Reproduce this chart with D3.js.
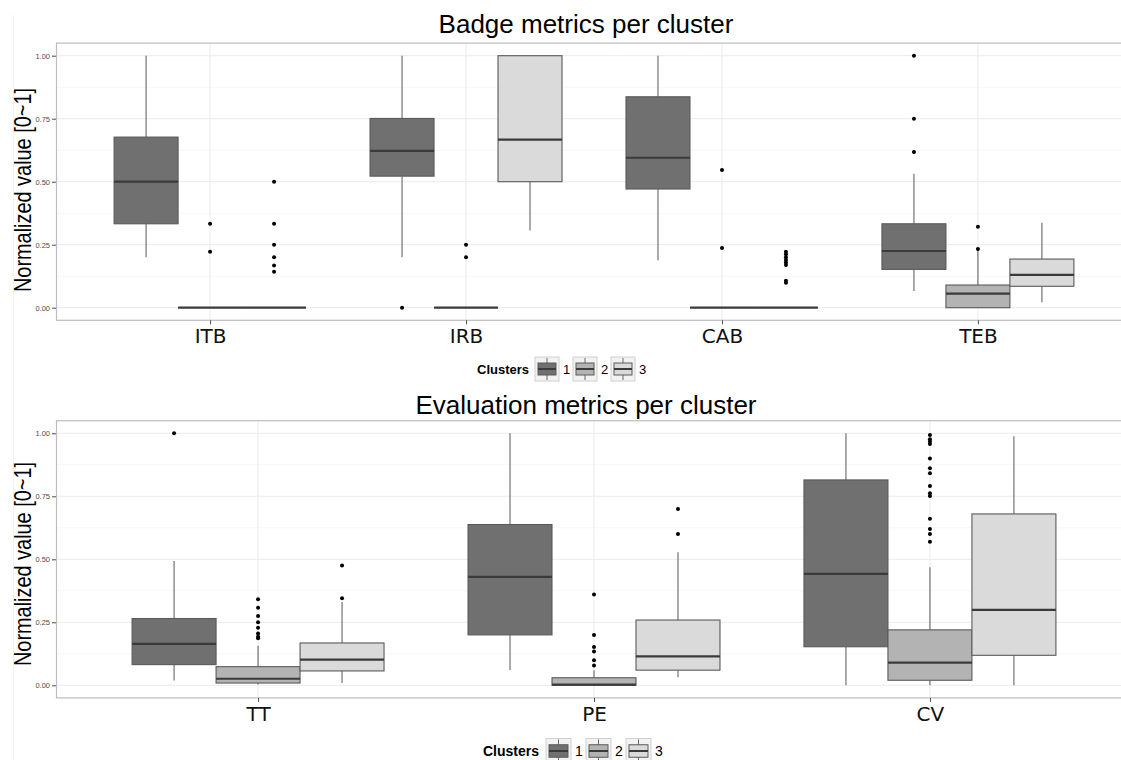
<!DOCTYPE html>
<html>
<head>
<meta charset="utf-8">
<script src="https://cdn.jsdelivr.net/npm/d3@7"></script>
<style>
  body { margin: 0; background: #fff; }
  text { font-family: "Liberation Sans", Arial, sans-serif; }
</style>
</head>
<body>
<script>
// categories
var badgeCats = ["ITB", "IRB", "CAB", "TEB"];
var evalCats = ["TT", "PE", "CV"];
var clusters = ["1", "2", "3"];
var yTicks = [0, 0.25, 0.5, 0.75, 1];
var yMinor = [0.125, 0.375, 0.625, 0.875];

// box stats per metric: [lower whisker, q1, median, q3, upper whisker]
var badgeC1 = [[0.2, 0.333, 0.5, 0.677, 1.0], [0.2, 0.522, 0.622, 0.751, 1.0], [0.188, 0.471, 0.595, 0.837, 1.0], [0.066, 0.152, 0.225, 0.333, 0.532]];
var badgeC2 = [[0, 0, 0, 0, 0], [0, 0, 0, 0, 0], [0, 0, 0, 0, 0], [0, 0, 0.056, 0.09, 0.228]];
var badgeC3 = [[0, 0, 0, 0, 0], [0.306, 0.5, 0.667, 1.0, 1.0], [0, 0, 0, 0, 0], [0.022, 0.085, 0.13, 0.193, 0.337]];

// outliers per metric
var badgeOut1 = [[], [0], [], [1.0, 0.75, 0.618]];
var badgeOut2 = [[0.333, 0.222], [0.25, 0.2], [0.546, 0.237], [0.321, 0.233]];
var badgeOut3 = [[0.5, 0.333, 0.25, 0.2, 0.167, 0.143], [], [0.222, 0.212, 0.2, 0.189, 0.179, 0.169, 0.107, 0.099], []];

var evalC1 = [[0.019, 0.082, 0.164, 0.265, 0.493], [0.061, 0.2, 0.43, 0.638, 1.0], [0, 0.153, 0.442, 0.815, 1.0]];
var evalC2 = [[0.003, 0.009, 0.026, 0.074, 0.157], [0, 0, 0.003, 0.03, 0.06], [0, 0.02, 0.09, 0.22, 0.468]];
var evalC3 = [[0.009, 0.057, 0.102, 0.168, 0.331], [0.032, 0.06, 0.115, 0.259, 0.528], [0, 0.119, 0.299, 0.68, 0.988]];

var evalOut1 = [[1.0], [], []];
var evalOut2 = [[0.341, 0.308, 0.275, 0.25, 0.228, 0.206, 0.193, 0.187], [0.36, 0.2, 0.152, 0.134, 0.099, 0.079],
                [0.993, 0.976, 0.967, 0.958, 0.9, 0.861, 0.841, 0.791, 0.762, 0.751, 0.661, 0.62, 0.6, 0.57]];
var evalOut3 = [[0.475, 0.345], [0.7, 0.6], []];

var fills = ["#707070", "#b3b3b3", "#dadada"];

var svg = d3.select("body").append("svg")
            .attr("width", 1121)
            .attr("height", 760);

// faint line at the far left of the picture
svg.append("line")
   .attr("x1", 13.5).attr("x2", 13.5)
   .attr("y1", 15).attr("y2", 760)
   .attr("stroke", "#f2f2f2");

var drawPanel = function(p)
{
  var n = p.cats.length;
  var x = d3.scaleLinear().domain([0.4, n + 0.6]).range([56.5, 1131.5]);
  var y = d3.scaleLinear().domain([-0.05, 1.05]).range([p.bottom, p.top]);

  var g = svg.append("g");

  // minor grid
  g.selectAll(".minor").data(yMinor).enter().append("line")
   .attr("x1", 56.5).attr("x2", 1121)
   .attr("y1", function(d) { return y(d); })
   .attr("y2", function(d) { return y(d); })
   .attr("stroke", "#f7f7f7");

  // major grid
  g.selectAll(".major").data(yTicks).enter().append("line")
   .attr("x1", 56.5).attr("x2", 1121)
   .attr("y1", function(d) { return y(d); })
   .attr("y2", function(d) { return y(d); })
   .attr("stroke", "#ebebeb");

  g.selectAll(".vgrid").data(p.cats).enter().append("line")
   .attr("x1", function(d, i) { return x(i + 1); })
   .attr("x2", function(d, i) { return x(i + 1); })
   .attr("y1", p.top).attr("y2", p.bottom)
   .attr("stroke", "#ebebeb");

  // boxes
  for (var k = 0; k < 3; k++) {
    var off = (k - 1) * 0.25;
    var stats = p.stats[k];
    stats.forEach(function(s, i) {
      var cx = x(i + 1 + off);
      var x0 = x(i + 1 + off - 0.125);
      var x1 = x(i + 1 + off + 0.125);
      g.append("line")
       .attr("x1", cx).attr("x2", cx)
       .attr("y1", y(s[3])).attr("y2", y(s[4]))
       .attr("stroke", "#666").attr("stroke-width", 1.1);
      g.append("line")
       .attr("x1", cx).attr("x2", cx)
       .attr("y1", y(s[1])).attr("y2", y(s[0]))
       .attr("stroke", "#666").attr("stroke-width", 1.1);
      g.append("rect")
       .attr("x", x0).attr("width", x1 - x0)
       .attr("y", y(s[3])).attr("height", y(s[1]) - y(s[3]))
       .attr("fill", fills[k])
       .attr("stroke", "#5a5a5a").attr("stroke-width", 1.1);
      g.append("line")
       .attr("x1", x0).attr("x2", x1)
       .attr("y1", y(s[2])).attr("y2", y(s[2]))
       .attr("stroke", "#3a3a3a").attr("stroke-width", 2.2);
    });
    p.outliers[k].forEach(function(list, i) {
      g.selectAll(null).data(list).enter().append("circle")
       .attr("cx", x(i + 1 + off))
       .attr("cy", function(d) { return y(d); })
       .attr("r", 2)
       .attr("fill", "#000");
    });
  }

  // panel border
  g.append("rect")
   .attr("x", 56.5).attr("y", p.top)
   .attr("width", 1131.5 - 56.5).attr("height", p.bottom - p.top)
   .attr("fill", "none")
   .attr("stroke", "#bdbdbd").attr("stroke-width", 1.2);

  // y axis
  var yAxis = d3.axisLeft(y).tickValues(yTicks).tickSize(4).tickPadding(2)
                .tickFormat(d3.format(".2f"));
  var ya = g.append("g").attr("transform", "translate(56,0)").call(yAxis);
  ya.select(".domain").remove();
  ya.selectAll("line").attr("stroke", "#4d4d4d");
  ya.selectAll("text").attr("fill", "#4d4d4d").style("font-size", "7.5px")
    .style("font-family", "'Liberation Sans', Arial, sans-serif");

  // x axis
  var xAxis = d3.axisBottom(x).tickValues(d3.range(1, n + 1)).tickSize(4).tickPadding(5)
                .tickFormat(function(d) { return p.cats[d - 1]; });
  var xa = g.append("g").attr("transform", "translate(0," + p.bottom + ")").call(xAxis);
  xa.select(".domain").remove();
  xa.selectAll("line").attr("stroke", "#4d4d4d");
  xa.selectAll("text").attr("fill", "#111").style("font-size", "20px")
    .style("font-family", "'DejaVu Sans', sans-serif");

  // titles
  g.append("text")
   .attr("x", 586).attr("y", p.titleY)
   .attr("text-anchor", "middle")
   .style("font-size", "26px")
   .text(p.title);

  g.append("text")
   .attr("transform", "translate(31," + p.ylabY + ") rotate(-90)")
   .attr("text-anchor", "middle")
   .attr("textLength", 204)
   .attr("lengthAdjust", "spacingAndGlyphs")
   .style("font-size", "24px")
   .text("Normalized value [0~1]");

  // legend
  var L = p.legend;
  var lg = g.append("g");
  lg.append("text")
    .attr("x", L.x).attr("y", L.y).attr("dy", "0.35em")
    .style("font-size", L.font + "px").style("font-weight", "bold")
    .text("Clusters");
  clusters.forEach(function(c, k) {
    var kx = L.keyX + k * L.step;
    var ky = L.y - L.key / 2;
    var s = L.key;
    lg.append("rect").attr("x", kx).attr("y", ky).attr("width", s).attr("height", s)
      .attr("fill", "#f2f2f2").attr("stroke", "#d0d0d0");
    lg.append("line").attr("x1", kx + s / 2).attr("x2", kx + s / 2)
      .attr("y1", ky + 1).attr("y2", ky + s - 1)
      .attr("stroke", "#666");
    lg.append("rect").attr("x", kx + 3).attr("y", ky + s * 0.25)
      .attr("width", s - 6).attr("height", s * 0.5)
      .attr("fill", fills[k]).attr("stroke", "#5a5a5a");
    lg.append("line").attr("x1", kx + 3).attr("x2", kx + s - 3)
      .attr("y1", ky + s / 2).attr("y2", ky + s / 2)
      .attr("stroke", "#3a3a3a").attr("stroke-width", 2);
    lg.append("text")
      .attr("x", kx + s + 4).attr("y", L.y).attr("dy", "0.35em")
      .style("font-size", L.font + "px")
      .text(c);
  });
};

drawPanel({
  cats: badgeCats,
  stats: [badgeC1, badgeC2, badgeC3],
  outliers: [badgeOut1, badgeOut2, badgeOut3],
  top: 43.1, bottom: 320.3,
  title: "Badge metrics per cluster", titleY: 33,
  ylabY: 190,
  legend: {x: 477, y: 369, font: 13, keyX: 535, key: 24, step: 38}
});

drawPanel({
  cats: evalCats,
  stats: [evalC1, evalC2, evalC3],
  outliers: [evalOut1, evalOut2, evalOut3],
  top: 420.7, bottom: 697.9,
  title: "Evaluation metrics per cluster", titleY: 414,
  ylabY: 564,
  legend: {x: 483, y: 751, font: 14, keyX: 546, key: 25, step: 40}
});
</script>
</body>
</html>
